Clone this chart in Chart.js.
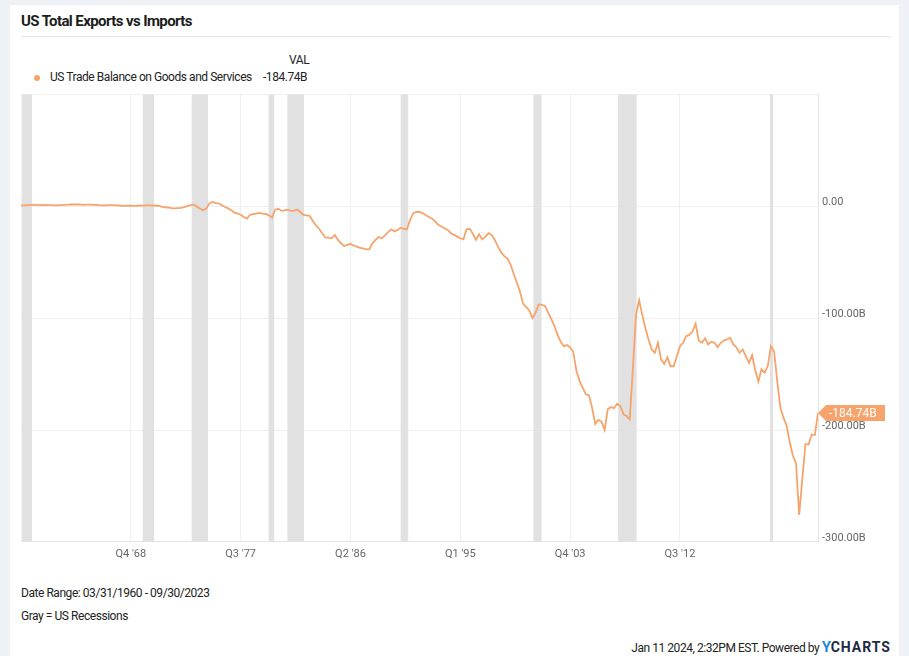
<!DOCTYPE html>
<html>
<head>
<meta charset="utf-8">
<script src="https://cdn.jsdelivr.net/npm/chart.js@4"></script>
<style>
  body { margin: 0; background: #eef2f7; font-family: Roboto, "Noto Sans", sans-serif; color: #222; }
  #card { position: absolute; left: 10px; top: 5px; width: 889px; height: 660px; background: #fff; }
  .txt { position: absolute; white-space: nowrap; letter-spacing: -0.45px; }
  #title { left: 11px; top: 7px; font-size: 15px; font-weight: 700; color: #1d1d1d; letter-spacing: -0.6px; }
  #rule { position: absolute; left: 11px; top: 31px; width: 870px; height: 1px; background: #e6e6e6; }
  #valhead { left: 279px; top: 48px; font-size: 12px; color: #222; }
  #legdot { position: absolute; left: 24px; top: 70px; width: 6px; height: 6px; border-radius: 50%; background: #f6a46c; }
  #legname { left: 40px; top: 65px; font-size: 12px; color: #222; }
  #legval { left: 253px; top: 65px; font-size: 12px; color: #222; }
  #chartbox { position: absolute; left: 11px; top: 79px; width: 880px; height: 483px; }
  #range { left: 11px; top: 581px; font-size: 12px; }
  #gray { left: 11px; top: 604px; font-size: 12px; }
  #stamp { right: 8px; top: 633px; font-size: 12px; }
  #stamp .y { color: #1e88e5; font-weight: 700; font-size: 15px; }
  #stamp .c { color: #1f2a44; font-weight: 700; font-size: 14px; letter-spacing: 1px; }
</style>
</head>
<body>
<div id="card">
  <div class="txt" id="title">US Total Exports vs Imports</div>
  <div id="rule"></div>
  <div class="txt" id="valhead">VAL</div>
  <div id="legdot"></div>
  <div class="txt" id="legname">US Trade Balance on Goods and Services</div>
  <div class="txt" id="legval">-184.74B</div>
  <div id="chartbox"><canvas id="myChart"></canvas></div>
  <div class="txt" id="range">Date Range: 03/31/1960 - 09/30/2023</div>
  <div class="txt" id="gray">Gray = US Recessions</div>
  <div class="txt" id="stamp">Jan 11 2024, 2:32PM EST. Powered by <span class="y">Y</span><span class="c">CHARTS</span></div>
</div>
<script>
const ctx = document.getElementById('myChart').getContext('2d');

// quarterly trade balance, billions USD, Q1 1960 .. Q3 2023
const balance = [
  0.8, 1.0, 1.2, 1.3,   1.4, 1.3, 1.2, 1.3,   1.2, 1.1, 1.1, 1.0,   1.1, 1.2, 1.4, 1.5,
  1.7, 1.8, 1.7, 1.8,   1.3, 1.6, 1.5, 1.3,   1.3, 1.1, 1.0, 1.0,   1.2, 1.1, 1.0, 0.9,
  0.6, 0.5, 0.6, 0.7,   0.5, 0.6, 0.8, 0.7,   0.9, 1.0, 0.8, 0.6,   0.4, -0.5, -0.8, -1.0,
  -1.5, -1.8, -1.6, -1.4,   -0.6, 0.3, 1.2, 1.5,   0.0, -1.8, -3.5, -2.0,   2.5, 4.2, 3.0, 2.8,
  1.0, -0.5, -1.8, -3.5,   -5.5, -6.2, -7.5, -9.5,   -11.0, -7.5, -7.0, -6.5,   -5.8, -6.5, -6.8, -8.0,
  -10.0, -3.0, -2.0, -4.0,   -3.5, -3.0, -4.0, -3.8,   -2.8, -5.0, -7.5, -8.0,   -8.5, -13.0, -17.0, -20.0,
  -24.0, -28.0, -28.0, -28.5,   -25.5, -30.0, -33.0, -35.5,   -34.5, -33.5, -35.0, -36.0,   -37.0, -37.5, -38.5, -38.5,
  -33.0, -30.0, -27.5, -28.5,   -26.0, -23.0, -20.5, -22.5,   -21.0, -19.0, -20.0, -20.5,   -12.0, -6.0, -5.0, -5.0,
  -6.0, -8.0, -9.5, -11.0,   -13.5, -16.5, -18.0, -19.5,   -21.0, -24.0, -25.5, -27.0,   -28.5, -29.5, -20.5, -20.0,
  -24.5, -30.0, -25.0, -29.5,   -27.0, -24.0, -25.5, -30.0,   -36.0, -41.0, -44.5, -46.5,   -52.0, -60.0, -68.0, -76.0,
  -87.0, -90.0, -93.0, -99.8,   -95.0, -87.5, -88.0, -89.0,   -95.0, -100.5, -107.0, -115.0,   -121.0, -125.0, -124.0, -126.0,
  -130.0, -147.0, -156.0, -162.0,   -168.0, -169.0, -180.0, -194.5,   -191.0, -192.5, -200.0, -181.5,   -179.5, -180.5, -176.5, -178.5,
  -186.0, -187.5, -190.5, -145.0,   -97.0, -84.0, -97.0, -109.0,   -119.0, -128.0, -131.0, -122.0,   -137.0, -141.0, -135.0, -143.0,
  -143.0, -134.0, -125.0, -122.0,   -116.0, -115.0, -112.0, -105.0,   -120.0, -122.0, -118.0, -123.5,   -121.0, -122.0, -126.0, -122.0,
  -120.0, -119.0, -117.5, -123.5,   -126.0, -131.0, -128.0, -134.0,   -140.0, -133.0, -146.5, -156.8,   -145.7, -148.7, -142.8, -125.0,
  -129.5, -156.0, -180.0, -189.0,   -196.0, -211.0, -223.0, -230.0,   -276.0, -244.0, -212.5, -213.0,   -204.0, -204.5, -184.74
];

// x ticks (quarter index from Q1 1960)
const tickIndex = [35, 70, 105, 140, 175, 210];
const tickLabels = ["Q4 '68", "Q3 '77", "Q2 '86", "Q1 '95", "Q4 '03", "Q3 '12"];

// US recessions, as quarter index ranges
const recessionStart = [0.2, 38.8, 54.4, 78.9, 84.9, 121.0, 163.3, 190.3, 238.7];
const recessionEnd   = [3.5, 42.4, 59.6, 80.7, 90.2, 123.4, 165.9, 196.2, 239.7];

const lastLabel = '-184.74B';
const lineColor = '#f6a46c';

const recessionBands = {
    id: 'recessionBands',
    beforeDatasetsDraw(chart) {
        const { ctx, chartArea, scales } = chart;
        ctx.save();
        ctx.fillStyle = '#e1e1e1';
        recessionStart.forEach((s, i) => {
            const x1 = scales.x.getPixelForValue(s);
            const x2 = scales.x.getPixelForValue(recessionEnd[i]);
            ctx.fillRect(x1, chartArea.top, Math.max(x2 - x1, 2), chartArea.bottom - chartArea.top);
        });
        ctx.restore();
    }
};

const lastFlag = {
    id: 'lastFlag',
    afterDraw(chart) {
        const { ctx, chartArea, scales } = chart;
        const y = scales.y.getPixelForValue(balance[balance.length - 1]);
        const x = chartArea.right;
        ctx.save();
        ctx.fillStyle = lineColor;
        ctx.beginPath();
        ctx.moveTo(x, y);
        ctx.lineTo(x + 8, y - 8);
        ctx.lineTo(x + 67, y - 8);
        ctx.lineTo(x + 67, y + 8);
        ctx.lineTo(x + 8, y + 8);
        ctx.closePath();
        ctx.fill();
        ctx.fillStyle = '#fff';
        ctx.font = '12px Roboto';
        ctx.textBaseline = 'middle';
        ctx.fillText(lastLabel, x + 11, y + 1);
        ctx.restore();
    }
};

new Chart(ctx, {
    type: 'line',
    data: {
        datasets: [{
            data: balance.map((v, i) => ({ x: i, y: v })),
            borderColor: lineColor,
            borderWidth: 1.8,
            pointRadius: 0,
            tension: 0
        }]
    },
    options: {
        responsive: true,
        maintainAspectRatio: false,
        animation: false,
        layout: { padding: { top: 0 } },
        plugins: { legend: { display: false }, tooltip: { enabled: false } },
        scales: {
            x: {
                type: 'linear',
                min: 0,
                max: balance.length - 1,
                afterBuildTicks: scale => { scale.ticks = tickIndex.map(v => ({ value: v })); },
                ticks: {
                    callback: v => tickLabels[tickIndex.indexOf(v)],
                    color: '#666',
                    font: { family: 'Roboto', size: 11 },
                    maxRotation: 0,
                    padding: 6
                },
                grid: { color: '#f0f0f0', drawTicks: false },
                border: { color: '#e4e4e4' }
            },
            y: {
                position: 'right',
                min: -300,
                max: 100,
                afterFit: scale => { scale.width = 83; },
                ticks: {
                    stepSize: 100,
                    callback: v => v === 100 ? '' : (v === 0 ? '0.00' : v.toFixed(2) + 'B'),
                    color: '#666',
                    font: { family: 'Roboto', size: 11 },
                    padding: 4,
                    labelOffset: -4
                },
                grid: { color: '#efefef', drawTicks: false },
                border: { color: '#e4e4e4' }
            }
        }
    },
    plugins: [recessionBands, lastFlag]
});
</script>
</body>
</html>
